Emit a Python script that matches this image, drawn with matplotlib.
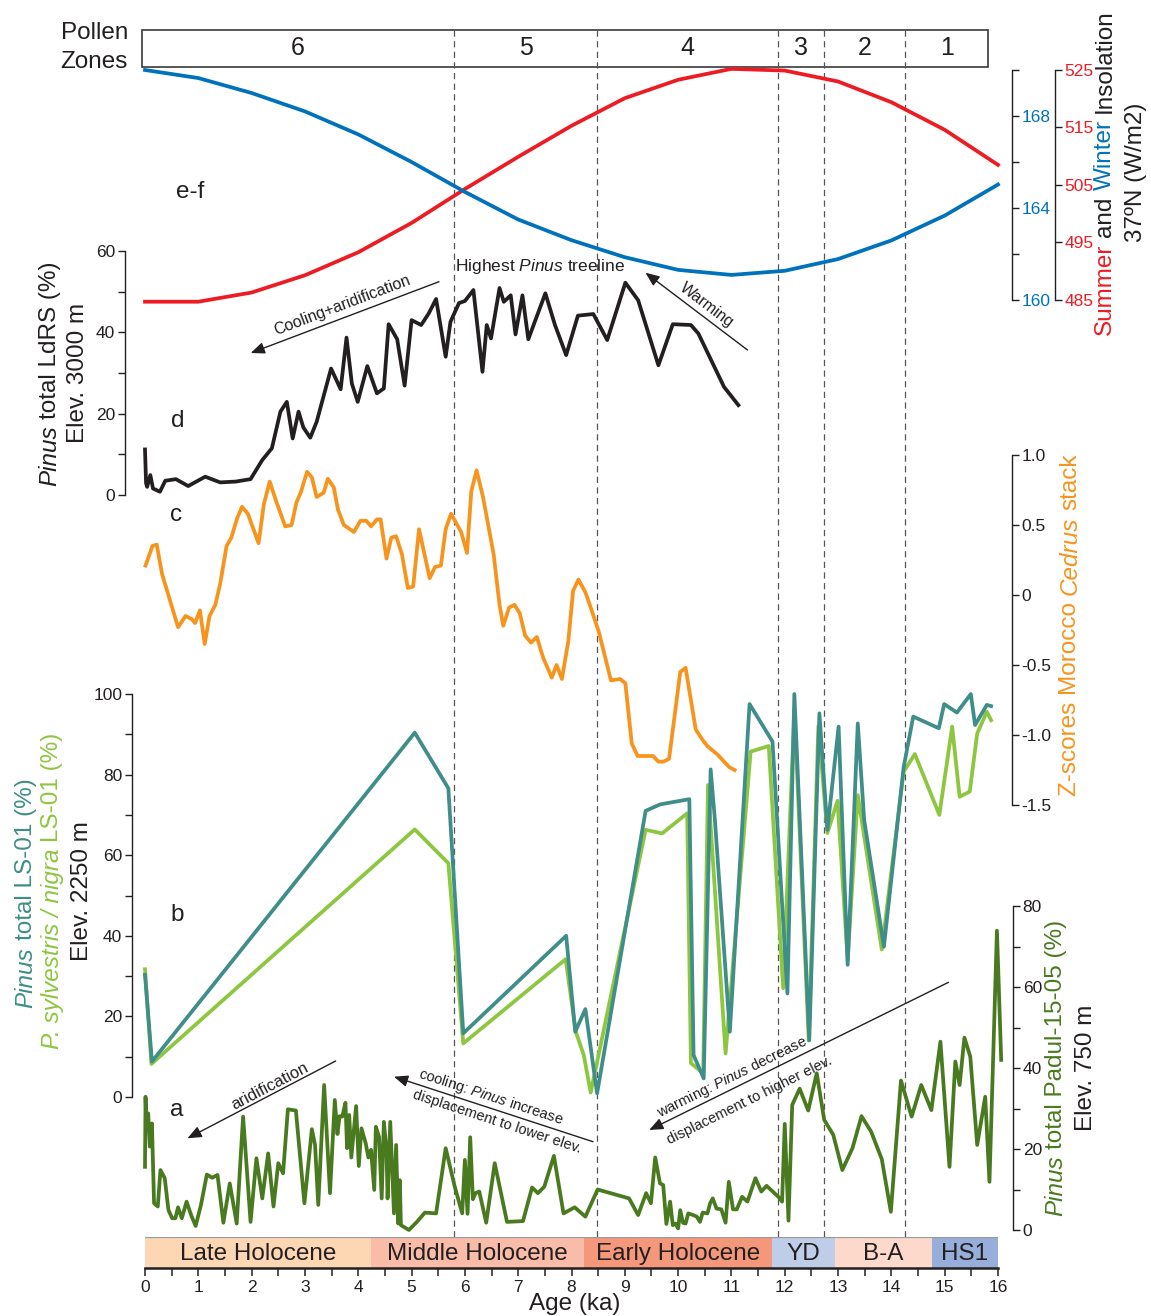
import matplotlib
matplotlib.use('Agg')
import matplotlib.pyplot as plt
from matplotlib.patches import Rectangle

plt.rcParams['font.family'] = ['Liberation Sans', 'DejaVu Sans']
plt.rcParams['mathtext.fontset'] = 'custom'
plt.rcParams['mathtext.rm'] = 'Liberation Sans'
plt.rcParams['mathtext.it'] = 'Liberation Sans:italic'
plt.rcParams['mathtext.bf'] = 'Liberation Sans:bold'

# ---------------- data ----------------
ins_age = list(range(17))
summer_ins = [484.7, 484.7, 486.3, 489.3, 493.3, 498.4, 504.3, 509.9, 515.3, 520.1,
              523.3, 525.2, 524.9, 523.0, 519.4, 514.6, 508.5]
winter_ins = [170.0, 169.65, 169.0, 168.2, 167.2, 166.0, 164.7, 163.5, 162.6, 161.86,
              161.31, 161.09, 161.27, 161.78, 162.59, 163.67, 165.02]

ldrs_age = [0.00, 0.02, 0.04, 0.10, 0.15, 0.28, 0.38, 0.58, 0.81, 1.13, 1.41, 1.70, 1.98,
            2.20, 2.38, 2.54, 2.66, 2.77, 2.88, 2.97, 3.10, 3.22, 3.49, 3.67, 3.78, 3.88,
            3.99, 4.17, 4.35, 4.48, 4.57, 4.73, 4.87, 5.00, 5.18, 5.32, 5.46, 5.64, 5.73,
            5.89, 6.00, 6.16, 6.33, 6.41, 6.49, 6.65, 6.73, 6.86, 6.95, 7.08, 7.19, 7.51,
            7.69, 7.90, 8.12, 8.41, 8.67, 9.01, 9.25, 9.63, 9.90, 10.24, 10.38, 10.86, 11.13]
ldrs_pinus = [11.2, 2.9, 2.0, 4.9, 1.6, 0.8, 3.5, 3.9, 2.2, 4.5, 3.1, 3.3, 3.9,
              8.6, 11.5, 20.5, 22.9, 13.9, 20.5, 16.6, 14.1, 18.0, 31.1, 26.0, 38.7, 27.4,
              22.9, 31.7, 25.0, 26.2, 42.0, 38.3, 26.9, 43.0, 41.8, 44.6, 48.2, 34.0, 42.6,
              47.2, 47.7, 50.4, 30.3, 41.8, 38.5, 50.9, 47.5, 49.1, 39.5, 49.1, 38.3, 49.6,
              41.8, 34.4, 44.1, 44.5, 38.1, 52.2, 47.9, 31.9, 42.0, 41.8, 39.7, 26.6, 22.1]

cedrus_age = [0.01, 0.14, 0.22, 0.32, 0.47, 0.62, 0.76, 0.87, 0.94, 1.03, 1.12, 1.21, 1.32,
              1.41, 1.53, 1.62, 1.73, 1.82, 1.93, 2.13, 2.23, 2.34, 2.46, 2.63, 2.75, 2.84,
              2.92, 3.04, 3.13, 3.22, 3.35, 3.43, 3.54, 3.62, 3.73, 3.92, 4.04, 4.15, 4.24,
              4.35, 4.42, 4.53, 4.62, 4.71, 4.82, 4.93, 5.03, 5.14, 5.34, 5.44, 5.55, 5.64,
              5.74, 5.93, 6.04, 6.12, 6.22, 6.34, 6.54, 6.65, 6.72, 6.83, 6.93, 7.03, 7.13,
              7.24, 7.35, 7.47, 7.63, 7.72, 7.82, 7.94, 8.03, 8.13, 8.26, 8.37, 8.51, 8.74,
              8.91, 9.01, 9.13, 9.24, 9.53, 9.63, 9.73, 9.83, 10.04, 10.14, 10.33, 10.45,
              10.55, 10.74, 10.86, 10.96, 11.06]
cedrus_z = [0.21, 0.35, 0.36, 0.15, -0.04, -0.23, -0.15, -0.17, -0.20, -0.11, -0.35, -0.15, -0.07,
            0.08, 0.35, 0.41, 0.55, 0.63, 0.58, 0.37, 0.65, 0.81, 0.67, 0.49, 0.50, 0.66,
            0.73, 0.88, 0.84, 0.70, 0.73, 0.83, 0.77, 0.61, 0.50, 0.45, 0.53, 0.53, 0.49,
            0.54, 0.54, 0.26, 0.41, 0.42, 0.29, 0.05, 0.06, 0.47, 0.12, 0.20, 0.21, 0.47,
            0.58, 0.45, 0.30, 0.74, 0.89, 0.70, 0.29, -0.07, -0.22, -0.09, -0.07, -0.13, -0.29,
            -0.34, -0.30, -0.45, -0.59, -0.50, -0.60, -0.33, 0.03, 0.11, 0.02, -0.10, -0.26, -0.61,
            -0.60, -0.63, -1.06, -1.15, -1.15, -1.19, -1.19, -1.17, -0.55, -0.52, -0.96, -1.03,
            -1.08, -1.14, -1.19, -1.23, -1.25]

ls01_age = [0.00, 0.13, 5.06, 5.69, 5.97, 7.90, 8.07, 8.26, 8.48, 9.39, 9.66, 10.21, 10.29,
            10.48, 10.61, 10.69, 10.97, 11.34, 11.77, 12.05, 12.18, 12.46, 12.65, 12.80,
            13.01, 13.18, 13.37, 13.49, 13.86, 14.23, 14.41, 14.89, 14.99, 15.23, 15.49,
            15.57, 15.79, 15.87]
ls01_total = [30.3, 8.8, 90.4, 76.6, 15.8, 40.0, 16.2, 21.8, 0.9, 71.0, 72.6, 73.9, 10.4,
              4.6, 81.3, 68.7, 16.2, 97.5, 88.2, 25.7, 100.0, 14.1, 95.2, 66.3,
              91.9, 32.8, 92.7, 68.7, 37.3, 81.8, 94.4, 91.5, 97.5, 95.4, 100.0,
              92.3, 97.3, 97.0]

sylv_age = [0.00, 0.12, 5.06, 5.69, 5.97, 7.89, 8.08, 8.23, 8.36, 9.39, 9.70, 10.17, 10.24,
            10.47, 10.56, 10.89, 11.36, 11.70, 11.97, 12.18, 12.45, 12.63, 12.80, 12.99,
            13.18, 13.37, 13.82, 14.23, 14.44, 14.90, 15.14, 15.28, 15.47, 15.61, 15.79, 15.87]
sylv_nigra = [31.7, 8.2, 66.4, 58.0, 13.3, 34.2, 16.2, 10.4, 1.1, 66.3, 65.4, 70.4, 8.4,
              5.9, 77.4, 10.8, 85.7, 87.1, 27.0, 96.0, 14.0, 92.0, 65.5, 73.5,
              34.0, 74.9, 36.6, 80.7, 85.1, 70.0, 91.9, 74.5, 75.8, 90.2, 95.6, 93.5]

padul_age = [0.00, 0.01, 0.03, 0.06, 0.09, 0.13, 0.17, 0.24, 0.29, 0.37, 0.44, 0.51, 0.57,
             0.62, 0.69, 0.78, 0.87, 0.95, 1.05, 1.16, 1.26, 1.36, 1.47, 1.59, 1.72, 1.84,
             1.98, 2.09, 2.20, 2.31, 2.41, 2.50, 2.59, 2.68, 2.83, 2.99, 3.13, 3.19, 3.25,
             3.36, 3.47, 3.56, 3.61, 3.65, 3.70, 3.76, 3.79, 3.83, 3.87, 3.96, 4.01, 4.06,
             4.14, 4.19, 4.24, 4.30, 4.33, 4.39, 4.44, 4.48, 4.53, 4.55, 4.60, 4.64, 4.67,
             4.71, 4.75, 4.78, 4.80, 4.95, 5.10, 5.25, 5.46, 5.64, 5.81, 5.95, 6.00, 6.05,
             6.10, 6.15, 6.20, 6.27, 6.40, 6.56, 6.79, 7.09, 7.26, 7.37, 7.49, 7.67, 7.85,
             8.06, 8.26, 8.49, 9.08, 9.25, 9.40, 9.49, 9.57, 9.66, 9.72, 9.78, 9.85, 9.90,
             9.95, 10.00, 10.04, 10.09, 10.14, 10.19, 10.28, 10.35, 10.41, 10.46, 10.55,
             10.60, 10.65, 10.72, 10.81, 10.89, 10.95, 11.03, 11.10, 11.20, 11.30, 11.45,
             11.56, 11.66, 11.88, 11.95, 12.00, 12.07, 12.14, 12.28, 12.44, 12.60, 12.74,
             12.91, 13.08, 13.27, 13.44, 13.62, 13.82, 13.99, 14.18, 14.38, 14.56, 14.75,
             14.92, 15.09, 15.20, 15.28, 15.37, 15.48, 15.61, 15.76, 15.84, 15.98, 16.06]
padul_pinus = [15.6, 32.9, 24.7, 28.8, 20.6, 26.3, 6.6, 5.8, 14.8, 12.8, 4.9, 2.9, 2.9,
               5.6, 2.9, 7.0, 3.5, 1.0, 6.2, 13.7, 12.9, 13.6, 1.8, 11.5, 1.6, 28.0,
               2.0, 17.7, 7.8, 18.9, 5.8, 16.5, 14.0, 29.8, 29.5, 6.6, 24.9, 21.0, 6.2,
               35.8, 9.1, 32.1, 23.7, 28.1, 28.0, 31.4, 20.2, 28.4, 17.9, 30.6, 15.8, 25.1,
               21.4, 17.9, 19.8, 9.9, 25.5, 23.0, 7.8, 26.7, 19.8, 7.8, 26.7, 14.0, 4.1,
               21.0, 1.6, 12.3, 1.2, 0.0, 2.0, 4.3, 4.1, 20.2, 10.7, 4.1, 17.3, 4.0,
               22.9, 7.6, 9.1, 9.5, 1.8, 16.5, 2.0, 2.2, 10.5, 9.1, 10.7, 18.3, 4.1,
               5.6, 3.3, 10.0, 7.8, 3.7, 9.1, 6.6, 17.9, 11.5, 11.1, 1.5, 7.0, 1.2,
               1.6, 0.4, 4.9, 1.8, 1.6, 4.1, 3.7, 3.3, 2.0, 4.3, 4.1,
               6.6, 7.8, 5.3, 5.1, 1.8, 11.9, 5.1, 5.1, 8.2, 7.0, 12.8,
               9.5, 10.9, 8.2, 7.0, 26.2, 2.3, 30.9, 34.9, 29.5, 38.7, 27.2,
               23.5, 14.8, 20.2, 28.1, 24.3, 17.5, 4.5, 36.9, 28.0, 35.8, 29.6,
               46.5, 15.6, 41.6, 35.8, 47.5, 42.8, 21.0, 32.9, 11.9, 73.9, 42.0]

zone_bounds = [-0.06, 5.80, 8.48, 11.88, 12.74, 14.26, 15.82]
zone_names = ['6', '5', '4', '3', '2', '1']

period_bounds = [0.0, 4.24, 8.24, 11.76, 12.94, 14.76, 16.0]
period_names = ['Late Holocene', 'Middle Holocene', 'Early Holocene', 'YD', 'B-A', 'HS1']
period_colors = ['#FDD6B3', '#F9BCA8', '#F4977B', '#BFCDE9', '#FCD9CB', '#98AEDA']

# ---------------- style ----------------
RED = '#ED1C24'
BLUE = '#0072BC'
BLK = '#231F20'
ORANGE = '#F7941D'
TEAL = '#3F8E89'
LGREEN = '#8DC63F'
DGREEN = '#4A7A1F'
LW = 2.7

W, H = 1151, 1316
X0, X1 = 145, 998
fig = plt.figure(figsize=(W / 100, H / 100), dpi=100)


def add_ax(ytop, ybot, x0=X0, x1=X1):
    return fig.add_axes([x0 / W, 1 - ybot / H, (x1 - x0) / W, (ybot - ytop) / H])


def style_y(ax, side, spine_x, ylim, major, labels, minor, labcolor=BLK):
    ax.set_xlim(0, 16)
    ax.set_ylim(*ylim)
    ax.patch.set_alpha(0)
    for s in ['top', 'bottom', 'left', 'right']:
        ax.spines[s].set_visible(False)
    sp = ax.spines[side]
    sp.set_visible(True)
    sp.set_position(('axes', (spine_x - X0) / (X1 - X0)))
    sp.set_bounds(ylim[0], ylim[1])
    sp.set_color(BLK)
    sp.set_linewidth(1.0)
    ax.xaxis.set_visible(False)
    ax.yaxis.set_ticks_position(side)
    ax.set_yticks(major)
    ax.set_yticklabels(labels)
    ax.set_yticks(minor, minor=True)
    ax.tick_params(axis='y', which='both', direction='out', length=5, width=1.0,
                   color=BLK, labelcolor=labcolor, labelsize=12.5, pad=2)


# background zone axes (age vs pixel y)
axz = add_ax(0, H)
axz.set_xlim(0, 16)
axz.set_ylim(H, 0)
axz.axis('off')
axz.add_patch(Rectangle((zone_bounds[0], 30), zone_bounds[-1] - zone_bounds[0], 37,
                        fill=True, facecolor='white', edgecolor='#3a3a3a', lw=1.2, clip_on=False))
for b in zone_bounds[1:-1]:
    axz.plot([b, b], [30, 1237], ls=(0, (5, 3.5)), color='#555555', lw=0.9, clip_on=False)
for i, nm in enumerate(zone_names):
    axz.text((zone_bounds[i] + zone_bounds[i + 1]) / 2, 48, nm, ha='center', va='center',
             fontsize=18, color=BLK)

# insolation
ax_s = add_ax(70, 300)
style_y(ax_s, 'right', 1055, (485, 525), [485, 495, 505, 515, 525],
        ['485', '495', '505', '515', '525'], [], labcolor=RED)
ax_s.plot(ins_age, summer_ins, color=RED, lw=LW, clip_on=False)
ax_w = add_ax(70, 300)
style_y(ax_w, 'right', 1012, (160, 170), [160, 162, 164, 166, 168, 170],
        ['160', '', '164', '', '168', ''], [], labcolor=BLUE)
ax_w.plot(ins_age, winter_ins, color=BLUE, lw=LW, clip_on=False)

# d: LdRS
ax_d = add_ax(251, 495)
style_y(ax_d, 'left', 125, (0, 60), [0, 20, 40, 60], ['0', '20', '40', '60'], [10, 30, 50])
ax_d.plot(ldrs_age, ldrs_pinus, color=BLK, lw=LW, clip_on=False)

# c: Cedrus
ax_c = add_ax(455, 805)
style_y(ax_c, 'right', 1012, (-1.5, 1.0), [-1.5, -1.0, -0.5, 0, 0.5, 1.0],
        ['-1.5', '-1.0', '-0.5', '0', '0.5', '1.0'], [])
ax_c.plot(cedrus_age, cedrus_z, color=ORANGE, lw=LW, clip_on=False)

# b: LS-01
ax_b = add_ax(694, 1097)
style_y(ax_b, 'left', 132, (0, 100), [0, 20, 40, 60, 80, 100],
        ['0', '20', '40', '60', '80', '100'], [10, 30, 50, 70, 90])
ax_b.plot(sylv_age, sylv_nigra, color=LGREEN, lw=LW, clip_on=False)
ax_b.plot(ls01_age, ls01_total, color=TEAL, lw=LW, clip_on=False)

# a: Padul
ax_a = add_ax(906, 1230)
style_y(ax_a, 'right', 1013, (0, 80), [0, 20, 40, 60, 80],
        ['0', '20', '40', '60', '80'], [10, 30, 50, 70])
ax_a.plot(padul_age, padul_pinus, color=DGREEN, lw=LW, clip_on=False)

# bottom period band + age axis
ax_x = add_ax(1237, 1268)
ax_x.set_xlim(0, 16)
ax_x.set_ylim(0, 1)
for s in ['top', 'left', 'right']:
    ax_x.spines[s].set_visible(False)
ax_x.spines['bottom'].set_linewidth(1.8)
ax_x.spines['bottom'].set_color(BLK)
ax_x.set_yticks([])
for i, nm in enumerate(period_names):
    a0, a1 = period_bounds[i], period_bounds[i + 1]
    ax_x.axvspan(a0, a1, color=period_colors[i], lw=0)
    ax_x.text((a0 + a1) / 2, 0.45, nm, ha='center', va='center', fontsize=17.5, color=BLK)
ax_x.axhline(1, color='#9a9a9a', lw=1.6)
ax_x.set_xticks(range(17))
ax_x.set_xticks([i + 0.5 for i in range(16)], minor=True)
ax_x.tick_params(axis='x', which='both', direction='out', length=5.5, width=1.1,
                 color=BLK, labelcolor=BLK, labelsize=12.5, pad=3.5)

# ---------------- overlay texts (pixel coords) ----------------
axo = fig.add_axes([0, 0, 1, 1])
axo.set_xlim(0, W)
axo.set_ylim(H, 0)
axo.axis('off')
axo.patch.set_alpha(0)

axo.text(128, 33, 'Pollen', ha='right', va='center', fontsize=17.5, color=BLK)
axo.text(128, 62, 'Zones', ha='right', va='center', fontsize=17.5, color=BLK)
for lab, (x, y) in {'e-f': (190, 192), 'd': (178, 421), 'c': (176, 515),
                    'b': (177, 915), 'a': (177, 1110)}.items():
    axo.text(x, y, lab, ha='center', va='center', fontsize=17.5, color=BLK)

axo.text(455, 267, r'Highest $\mathit{Pinus}$ treeline', ha='left', va='center',
         fontsize=12.5, color=BLK)
axo.text(575, 1304, 'Age (ka)', ha='center', va='center', fontsize=17.5, color=BLK)

arrow_kw = dict(arrowstyle='-|>,head_length=0.6,head_width=0.25', lw=1.0, color=BLK,
                shrinkA=0, shrinkB=0, mutation_scale=14)


def arrow(head, tail):
    axo.annotate('', xy=head, xytext=tail, arrowprops=arrow_kw)


def rtext(x, y, s, rot, size):
    axo.text(x, y, s, rotation=rot, rotation_mode='anchor', ha='center', va='center',
             fontsize=size, color=BLK)


arrow((250.7, 353), (439, 281.7))
rtext(342, 305, 'Cooling+aridification', 20.8, 11.5)
arrow((645.5, 272.7), (747.5, 350))
rtext(707, 305, 'Warming', -37.2, 11.5)
arrow((187.5, 1138.3), (335.6, 1061))
rtext(270, 1086, 'aridification', 27.6, 12)
arrow((394, 1076.7), (593, 1141.7))
rtext(491, 1097, r'cooling: $\mathit{Pinus}$ increase', -18.1, 10.5)
rtext(497, 1122, 'displacement to lower elev.', -18.1, 10.5)
arrow((649.2, 1130), (948.5, 982.3))
rtext(732, 1077, r'warming: $\mathit{Pinus}$ decrease', 26.3, 10.5)
rtext(750, 1100, 'displacement to higher elev.', 26.3, 10.5)

# rotated multi-part axis labels
renderer = fig.canvas.get_renderer()


def vlabel(xc, yc, parts, size):
    objs, widths = [], []
    for s, c, it in parts:
        t = fig.text(0, 0, s, fontsize=size, color=c, style='italic' if it else 'normal',
                     rotation=90, rotation_mode='anchor', ha='left', va='center')
        objs.append(t)
        widths.append(t.get_window_extent(renderer=renderer).height)
    space = 0.278 * size * 100 / 72
    total = sum(widths) + space * (len(parts) - 1)
    y = (H - yc) - total / 2
    for t, w in zip(objs, widths):
        t.set_position((xc / W, y / H))
        y += w + space


SZ = 17.5
vlabel(1105, 172, [('Summer', RED, False), ('and', BLK, False), ('Winter', BLUE, False),
                   ('Insolation', BLK, False)], SZ)
vlabel(1136, 172, [('37ºN (W/m2)', BLK, False)], SZ)
vlabel(1070, 625, [('Z-scores Morocco', ORANGE, False), ('Cedrus', ORANGE, True),
                   ('stack', ORANGE, False)], 17.5)
vlabel(50, 374, [('Pinus', BLK, True), ('total LdRS (%)', BLK, False)], SZ)
vlabel(78, 373, [('Elev. 3000 m', BLK, False)], SZ)
vlabel(26, 893, [('Pinus', TEAL, True), ('total LS-01 (%)', TEAL, False)], SZ)
vlabel(52, 891, [('P. sylvestris / nigra', LGREEN, True), ('LS-01 (%)', LGREEN, False)], SZ)
vlabel(82, 891, [('Elev. 2250 m', BLK, False)], SZ)
vlabel(1056, 1068, [('Pinus', DGREEN, True), ('total Padul-15-05 (%)', DGREEN, False)], SZ)
vlabel(1086, 1068, [('Elev. 750 m', BLK, False)], SZ)

fig.savefig('out.png', dpi=100)
